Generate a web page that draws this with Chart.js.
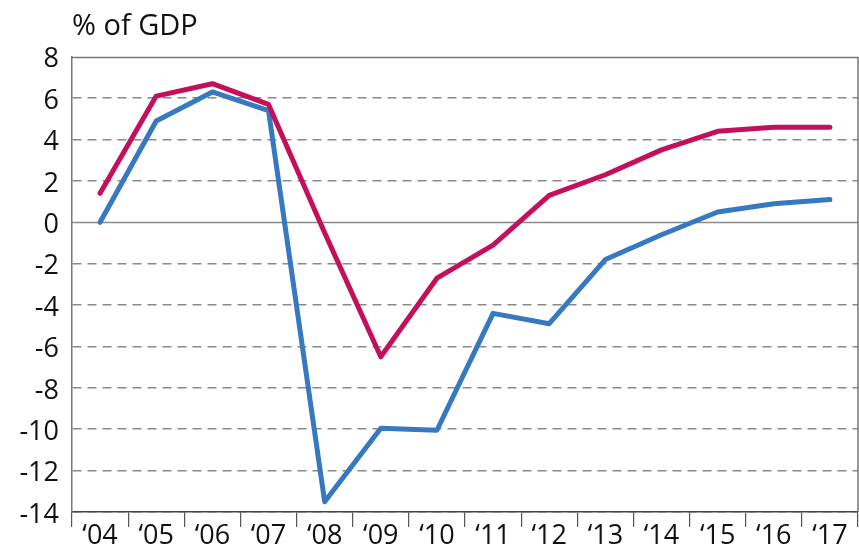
<!DOCTYPE html>
<html>
<head>
<meta charset="utf-8">
<script src="https://cdn.jsdelivr.net/npm/chart.js@4"></script>
<style>
html,body{margin:0;padding:0;background:#fff;}
#wrap{width:859px;height:547px;position:relative;}
</style>
</head>
<body>
<div id="wrap"><canvas id="c" width="859" height="547"></canvas></div>
<script>
const categories = ["\u201804","\u201805","\u201806","\u201807","\u201808","\u201809","\u201810","\u201811","\u201812","\u201813","\u201814","\u201815","\u201816","\u201817"];
const redSeries = [1.4, 6.1, 6.7, 5.7, -0.5, -6.5, -2.7, -1.1, 1.3, 2.3, 3.5, 4.4, 4.6, 4.6];
const blueSeries = [0.0, 4.9, 6.3, 5.4, -13.5, -9.95, -10.05, -4.4, -4.9, -1.8, -0.6, 0.5, 0.9, 1.1];
const yTicks = [-14, -12, -10, -8, -6, -4, -2, 0, 2, 4, 6, 8];
const titleText = '% of GDP';

const FONT = "'Open Sans', 'Noto Sans', sans-serif";

const framePlugin = {
  id: 'frame',
  beforeDatasetsDraw(chart) {
    const {ctx, chartArea: a, scales: {y}} = chart;
    ctx.save();
    ctx.strokeStyle = '#8a8a8a';
    ctx.lineWidth = 1.5;
    const y0 = Math.round(y.getPixelForValue(0)) + 0.5;
    ctx.beginPath(); ctx.moveTo(a.left, y0); ctx.lineTo(a.right, y0); ctx.stroke();
    ctx.strokeStyle = '#777';
    ctx.lineWidth = 1.5;
    const yt = Math.round(y.getPixelForValue(8)) + 0.5;
    ctx.beginPath(); ctx.moveTo(a.left, yt); ctx.lineTo(a.right, yt); ctx.lineTo(a.right, a.bottom); ctx.stroke();
    ctx.restore();
  }
};

new Chart(document.getElementById('c'), {
  type: 'line',
  data: {
    labels: categories,
    datasets: [
      {data: redSeries, borderColor: '#C40F5B', borderWidth: 5, pointRadius: 0, tension: 0, borderCapStyle: 'round', borderJoinStyle: 'round'},
      {data: blueSeries, borderColor: '#3679C0', borderWidth: 5, pointRadius: 0, tension: 0, borderCapStyle: 'round', borderJoinStyle: 'round'}
    ]
  },
  options: {
    responsive: false,
    animation: false,
    layout: {padding: {right: 1, left: 0, top: 0, bottom: 0}},
    plugins: {
      legend: {display: false},
      tooltip: {enabled: false},
      title: {
        display: true, text: titleText, align: 'start', fullSize: false,
        color: '#111', font: {family: FONT, size: 29, weight: 'normal'},
        padding: {top: 9, bottom: 13}
      }
    },
    scales: {
      x: {
        type: 'category', offset: true,
        grid: {offset: true, drawOnChartArea: false, drawTicks: true, tickLength: 15, color: '#555', lineWidth: 1.2},
        border: {display: true, color: '#444', width: 1.5},
        ticks: {color: '#111', font: {family: FONT, size: 27}, padding: -7, maxRotation: 0, autoSkip: false},
        afterFit(s) { s.height = 35; }
      },
      y: {
        min: -14, max: 8,
        afterBuildTicks(s) { s.ticks = yTicks.map(v => ({value: v})); },
        grid: {drawTicks: false, color: (c) => (c.tick && (c.tick.value === 0 || c.tick.value === 8)) ? 'rgba(0,0,0,0)' : '#8a8a8a', lineWidth: 1.5},
        border: {display: true, color: '#777', width: 1.5, dash: [9, 6]},
        ticks: {color: '#111', font: {family: FONT, size: 27}, padding: 13, labelOffset: 3},
        afterFit(s) { s.width = 72; }
      }
    }
  },
  plugins: [framePlugin]
});
</script>
</body>
</html>
